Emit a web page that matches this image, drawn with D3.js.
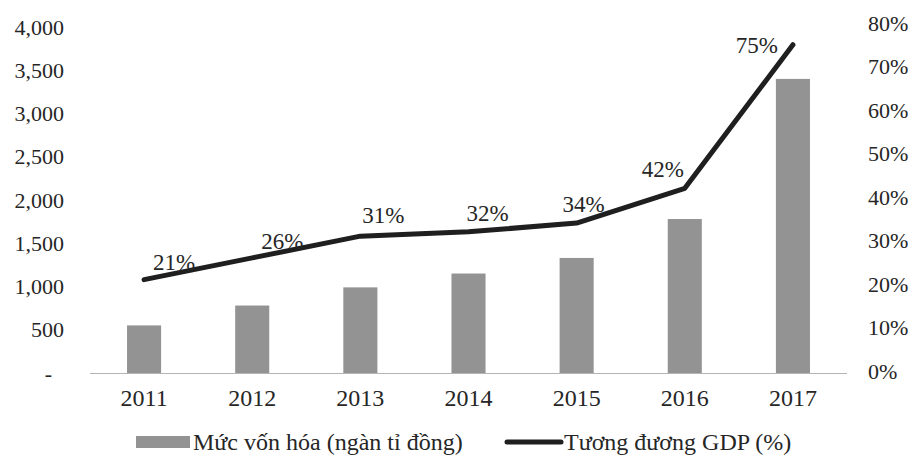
<!DOCTYPE html>
<html>
<head>
<meta charset="utf-8">
<script src="https://cdn.jsdelivr.net/npm/d3@7"></script>
<style>
body { margin: 0; background: #ffffff; }
text { font-family: "Liberation Serif", "DejaVu Serif", serif; }
</style>
</head>
<body>
<div id="canvas"></div>
<script>
// ----------------------------------------------------------
// DATA -----------------------------------------------------
// ----------------------------------------------------------
var years = ["2011", "2012", "2013", "2014", "2015", "2016", "2017"];
// market capitalisation, thousand billion VND
var cap_values = [550, 780, 990, 1150, 1330, 1780, 3400];
// equivalent to GDP, %
var gdp_values = [21, 26, 31, 32, 34, 42, 75];
var left_ticks = [0, 500, 1000, 1500, 2000, 2500, 3000, 3500, 4000];
var right_ticks = [0, 10, 20, 30, 40, 50, 60, 70, 80];
var legend_labels = ["Mức vốn hóa (ngàn tỉ đồng)", "Tương đương GDP (%)"];

// ----------------------------------------------------------
// LAYOUT ---------------------------------------------------
// ----------------------------------------------------------
var layout =
{
width: 914,
height: 467,
plot_left: 90,
plot_right: 847,
plot_top: 27,
plot_bottom: 373,
font_axis: 22,
font_year: 24,
font_value: 23,
font_legend: 24,
color_text: "#262626",
color_bar: "#939393",
color_line: "#1f1f1f",
color_base: "#b4b4b4"
};

// nudges for the value labels (dx, dy from point)
var label_nudge = [[30, -18], [30, -17], [23, -21], [19, -19], [7, -19], [-22, -19], [-36, 0]];

var svg = d3.select("#canvas").append("svg")
.attr("width", layout.width)
.attr("height", layout.height)
.style("background-color", "#ffffff");

// ----------------------------------------------------------
// SCALES ---------------------------------------------------
// ----------------------------------------------------------
var x = d3.scaleBand()
.domain(years)
.range([layout.plot_left, layout.plot_right])
.paddingInner(0.685)
.paddingOuter(0.3425);

var y_left = d3.scaleLinear()
.domain([0, 4000])
.range([layout.plot_bottom, layout.plot_top]);

var y_right = d3.scaleLinear()
.domain([0, 80])
.range([layout.plot_bottom - 2, layout.plot_top - 4]);

var cx = function(d) { return x(d) + x.bandwidth() / 2; };

// ----------------------------------------------------------
// AXES -----------------------------------------------------
// ----------------------------------------------------------
var axis_left = svg.append("g")
.attr("transform", "translate(64,0)")
.call(d3.axisLeft(y_left).tickValues(left_ticks).tickSize(0).tickPadding(0)
.tickFormat(function(d) { return d === 0 ? "-" : d3.format(",")(d); }));

var axis_right = svg.append("g")
.attr("transform", "translate(868,0)")
.call(d3.axisRight(y_right).tickValues(right_ticks).tickSize(0).tickPadding(0)
.tickFormat(function(d) { return d + "%"; }));

var axis_x = svg.append("g")
.attr("transform", "translate(0," + (layout.plot_bottom + 15) + ")")
.call(d3.axisBottom(x).tickSize(0).tickPadding(0));

[axis_left, axis_right, axis_x].forEach(function(a) {
a.select(".domain").remove();
a.selectAll("text")
.style("font-size", layout.font_axis + "px")
.style("font-family", "Liberation Serif")
.attr("fill", layout.color_text);
});
axis_x.selectAll("text")
.style("font-size", layout.font_year + "px")
.attr("dy", "0.75em");
// zero label of left axis sits a bit inward (accounting format)
axis_left.selectAll("text").filter(function(d) { return d === 0; })
.attr("dx", -12);

// baseline
svg.append("line")
.attr("x1", layout.plot_left)
.attr("x2", layout.plot_right)
.attr("y1", layout.plot_bottom + 0.5)
.attr("y2", layout.plot_bottom + 0.5)
.attr("stroke", layout.color_base)
.attr("stroke-width", 1.2);

// ----------------------------------------------------------
// GFX ------------------------------------------------------
// ----------------------------------------------------------
svg.append("g").selectAll("rect")
.data(cap_values)
.enter()
.append("rect")
.attr("x", function(d, i) { return x(years[i]); })
.attr("y", function(d) { return y_left(d); })
.attr("width", x.bandwidth())
.attr("height", function(d) { return y_left(0) - y_left(d); })
.attr("fill", layout.color_bar);

var line = d3.line()
.x(function(d, i) { return cx(years[i]); })
.y(function(d) { return y_right(d); });

svg.append("path")
.datum(gdp_values)
.attr("d", line)
.attr("fill", "none")
.attr("stroke", layout.color_line)
.attr("stroke-width", 5)
.attr("stroke-linejoin", "round")
.attr("stroke-linecap", "round");

// value labels
svg.append("g").selectAll("text")
.data(gdp_values)
.enter()
.append("text")
.attr("x", function(d, i) { return cx(years[i]) + label_nudge[i][0]; })
.attr("y", function(d, i) { return y_right(d) + label_nudge[i][1]; })
.attr("text-anchor", "middle")
.attr("dy", "0.35em")
.style("font-size", layout.font_value + "px")
.attr("fill", layout.color_text)
.text(function(d) { return d + "%"; });

// ----------------------------------------------------------
// LEGEND ---------------------------------------------------
// ----------------------------------------------------------
var legend_y = 442;
var legend = svg.append("g");

legend.append("rect")
.attr("x", 136)
.attr("y", legend_y - 6)
.attr("width", 54)
.attr("height", 12)
.attr("fill", layout.color_bar);

legend.append("text")
.attr("x", 193)
.attr("y", legend_y)
.attr("dy", "0.35em")
.style("font-size", layout.font_legend + "px")
.attr("fill", layout.color_text)
.text(legend_labels[0]);

legend.append("line")
.attr("x1", 507)
.attr("x2", 561)
.attr("y1", legend_y)
.attr("y2", legend_y)
.attr("stroke", layout.color_line)
.attr("stroke-width", 5)
.attr("stroke-linecap", "round");

legend.append("text")
.attr("x", 564)
.attr("y", legend_y)
.attr("dy", "0.35em")
.style("font-size", layout.font_legend + "px")
.attr("fill", layout.color_text)
.text(legend_labels[1]);
</script>
</body>
</html>
